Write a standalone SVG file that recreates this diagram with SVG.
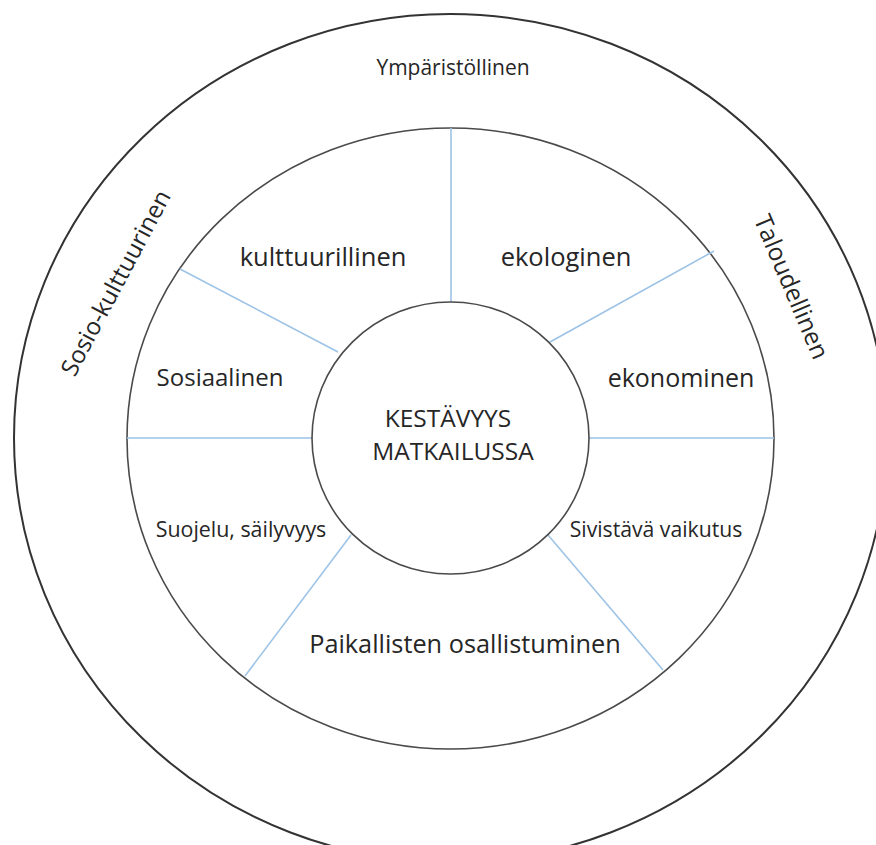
<svg xmlns="http://www.w3.org/2000/svg" width="876" height="845" viewBox="0 0 876 845">
<style>
.ring{fill:none;stroke:#4a4a4a;stroke-width:1.6}
.outer{fill:none;stroke:#333;stroke-width:2}
.spoke{stroke:#9dc3e6;stroke-width:1.6;fill:none}
text{font-family:"Open Sans","Noto Sans","Liberation Sans",sans-serif;fill:#262626;text-anchor:middle}
</style>
<rect width="876" height="845" fill="#fff"/>
<g id="outer-ring">
<ellipse class="outer" cx="450.5" cy="438" rx="436.5" ry="424"/>
<text x="453" y="75" font-size="21">Ympäristöllinen</text>
<text transform="translate(116,283) rotate(-62)" y="8" font-size="24">Sosio-kulttuurinen</text>
<text transform="translate(791,287) rotate(67)" y="8" font-size="24.5">Taloudellinen</text>
</g>
<g id="middle-ring">
<ellipse class="ring" cx="450.5" cy="438.5" rx="323.5" ry="310.5"/>
</g>
<g id="connectors">
<line class="spoke" x1="451" y1="128" x2="451" y2="302"/>
<line class="spoke" x1="180" y1="269" x2="338" y2="352"/>
<line class="spoke" x1="714" y1="251" x2="550" y2="342"/>
<line class="spoke" x1="127" y1="438" x2="312" y2="438"/>
<line class="spoke" x1="589" y1="438" x2="774" y2="438"/>
<line class="spoke" x1="245" y1="676" x2="351" y2="535"/>
<line class="spoke" x1="663" y1="670" x2="548" y2="535"/>
</g>
<g id="kulttuurillinen"><text x="323" y="266" font-size="25.5">kulttuurillinen</text></g>
<g id="ekologinen"><text x="566" y="266" font-size="25.5">ekologinen</text></g>
<g id="sosiaalinen"><text x="220" y="386" font-size="24">Sosiaalinen</text></g>
<g id="ekonominen"><text x="681" y="387" font-size="25">ekonominen</text></g>
<g id="suojelu"><text x="241" y="537" font-size="21.4">Suojelu, säilyvyys</text></g>
<g id="sivistava"><text x="656" y="537" font-size="21.2">Sivistävä vaikutus</text></g>
<g id="paikallisten"><text x="465" y="653" font-size="25.3">Paikallisten osallistuminen</text></g>
<g id="center">
<ellipse class="ring" cx="450.5" cy="438" rx="138.5" ry="136"/>
<text x="448" y="427" font-size="24.5">KESTÄVYYS</text>
<text x="453" y="460" font-size="24.5">MATKAILUSSA</text>
</g>
</svg>
